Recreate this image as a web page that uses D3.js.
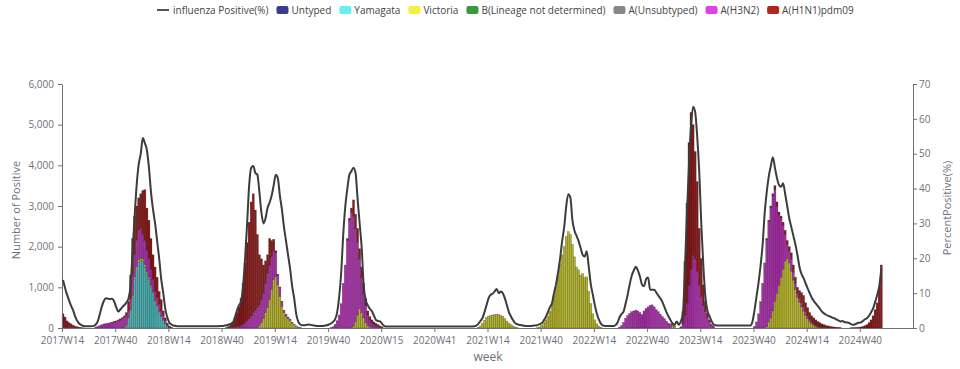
<!DOCTYPE html>
<html lang="en">
<head>
<meta charset="UTF-8">
<title>Influenza positive by week</title>
<script src="https://d3js.org/d3.v7.min.js"></script>
<style>
    body { margin: 0; background: #fff; font-family: "Open Sans", "Noto Sans", sans-serif; }
    .axis text { fill: #6e7079; font-size: 10px; font-family: "Open Sans", sans-serif; }
    .axis path, .axis line { stroke: #6e7079; }
    .axis-title { fill: #6e7079; font-size: 11px; }
    .legend text { fill: #444; font-size: 10px; }
</style>
</head>
<body>
<div id="chart"></div>
<script>
// ---- data ----
const seriesNames = ["Untyped", "Yamagata", "Victoria", "B(Lineage not determined)", "A(Unsubtyped)", "A(H3N2)", "A(H1N1)pdm09"];
const seriesColors = ["#3b3b8f", "#66eef0", "#f2f23c", "#3a9a3a", "#888888", "#e43fe4", "#b52222"];
const lineName = "influenza Positive(%)";

const xTickLabels = ["2017W14", "2017W40", "2018W14", "2018W40", "2019W14", "2019W40", "2020W15", "2020W41",
    "2021W14", "2021W40", "2022W14", "2022W40", "2023W14", "2023W40", "2024W14", "2024W40"];
const leftTicks = [0, 1000, 2000, 3000, 4000, 5000, 6000];
const rightTicks = [0, 10, 20, 30, 40, 50, 60, 70];

// weekly counts, given as [first week, values...] runs; weeks not listed are 0
const untyped = [];
const bUndetermined = [];
const aUnsubtyped = [];
const yamagata = [
    ["2017W43", [5, 20, 65, 230, 420, 760, 1200, 1440, 1620, 1660, 1640, 1500, 1330, 1200, 1010, 845, 650, 525, 380, 285, 190, 115, 48, 19, 5]]
];
const victoria = [
    ["2017W43", [5, 10, 15, 20, 30, 40, 50, 60, 60, 60, 60, 60, 50, 50, 40, 35, 30, 25, 20, 15, 10, 5, 2, 1]],
    ["2019W06", [60, 130, 240, 380, 500, 700, 950, 1200, 1260, 1060, 780, 530, 380, 290, 230, 190, 120, 80, 45, 20, 8]],
    ["2019W50", [10, 20, 50, 150, 320, 480, 380, 250, 130, 60, 30, 15, 10, 5]],
    ["2021W09", [20, 50, 120, 190, 260, 290, 310, 320, 330, 340, 330, 310, 290, 230, 170, 120, 80, 50, 25, 10]],
    ["2021W38", [10, 30, 70, 130, 200, 280, 400, 580, 800, 1000, 1300, 1580, 1800, 2000, 2250, 2370, 2300, 2050, 1750, 1500,
        1430, 1300, 1340, 1240, 1260, 900, 600, 350, 200, 100, 40, 15]],
    ["2022W51", [20, 70, 30]],
    ["2023W45", [10, 40, 150, 250, 420, 650, 850, 1050, 1250, 1450, 1650, 1710, 1600, 1400, 1180, 950, 760, 640, 520, 420,
        320, 230, 160, 110, 70, 40, 20, 10]]
];
const h3n2 = [
    ["2017W14", [30, 20, 15, 10, 10, 5, 5]],
    ["2017W30", [20, 40, 60, 80, 100, 110, 120, 130, 140, 150, 160, 180, 200, 220, 230, 220, 170, 250, 500, 550,
        650, 720, 730, 600, 590, 520, 450, 400, 320, 220, 200, 180, 120, 100, 60, 30, 10, 5]],
    ["2018W43", [5, 10, 15, 20, 30, 40, 60, 90, 130, 180, 240, 300, 380, 440, 500, 510, 570, 610, 720, 850,
        850, 800, 700, 590, 240, 220, 120, 50, 40, 40, 30, 20, 10, 5, 5, 2]],
    ["2019W41", [10, 30, 90, 180, 320, 600, 1100, 1550, 2150, 2640, 2830, 2700, 2300, 1780, 1220, 870, 600, 420, 260, 170,
        115, 80, 55, 40, 20, 10]],
    ["2022W26", [20, 60, 140, 240, 310, 360, 400, 420, 440, 420, 380, 330, 420, 480, 520, 560, 570, 520, 450, 400,
        340, 280, 230, 170, 120, 80, 40, 20]],
    ["2023W04", [20, 100, 320, 600, 1050, 1450, 1780, 1700, 1400, 1050, 780, 560, 400, 250, 150, 70, 30]],
    ["2023W40", [40, 150, 350, 650, 1100, 1590, 2140, 2470, 2710, 2830, 2750, 2150, 1730, 1450, 1070, 650, 340, 280, 300, 200,
        150, 90, 90, 100, 100, 80, 70, 60, 40, 30, 30, 20, 15, 15, 10, 5]]
];
const h1n1 = [
    ["2017W14", [320, 250, 160, 120, 90, 60, 40, 30, 20, 10, 5]],
    ["2017W38", [5, 10, 15, 20, 25, 25, 40, 80, 230, 600, 900, 950, 850, 800, 850, 1080, 1250, 1050, 950, 750,
        600, 600, 500, 320, 280, 120, 70, 40, 20, 10]],
    ["2018W42", [10, 35, 90, 135, 230, 350, 480, 670, 1010, 1470, 1920, 2360, 2800, 2920, 2460, 1800, 1230, 1000, 700, 550,
        450, 650, 400, 280, 50, 20, 10, 10, 5, 5]],
    ["2019W49", [50, 50, 100, 400, 350, 350, 250, 250, 250, 170, 100, 80, 70, 60, 50, 40, 30, 20]],
    ["2023W04", [10, 300, 1310, 2470, 3510, 3850, 3220, 2640, 2200, 1400, 930, 500, 250, 110, 50, 20, 10]],
    ["2023W46", [20, 30, 40, 50, 100, 100, 70, 50, 80, 100, 100, 120, 150, 170, 150, 150, 190, 250, 280, 220,
        200, 160, 150, 150, 130, 120, 105, 85, 70, 55, 50, 40, 30, 25, 20, 15, 10]],
    ["2024W35", [5, 10, 10, 15, 20, 25, 40, 55, 80, 130, 200, 300, 450, 620, 1000, 1550]]
];

// percent positive, one value per week from 2017W14 to 2024W50
const percentPositive = [
    13.8, 11.5, 9.5, 7.8, 6.3, 5.0, 3.2, 2.0, 1.2, 0.8, 0.6, 0.5, 0.5, 0.5, 0.5, 0.6, 1.0, 2.0, 4.0, 6.2, 7.8, 8.5, 8.4, 8.3, 8.4, 7.6,
    6.0, 4.7, 5.3, 6.0, 6.6, 7.3, 8.5, 12, 22, 32, 41, 47, 50, 54.5, 53, 51, 46, 39, 34, 30, 25, 20, 14, 10, 5.5, 3,
    1.5, 1.0, 0.7, 0.6, 0.5, 0.5, 0.5, 0.5, 0.5, 0.5, 0.5, 0.5, 0.5, 0.5, 0.5, 0.5, 0.5, 0.5, 0.5, 0.5, 0.5, 0.5, 0.5, 0.5, 0.5, 0.6,
    0.6, 0.7, 0.8, 1.0, 1.2, 1.5, 3.0, 5.0, 6.5, 7.5, 12, 20, 30, 41, 46, 46.5, 44.5, 44, 39, 33, 30, 31.5, 34.5, 36, 38, 41,
    44, 43, 38, 34, 29, 25, 21, 17, 12, 8.5, 4, 1.8, 1.0, 0.8, 0.8, 0.9, 1.0, 0.9, 0.8, 0.7, 0.6, 0.6, 0.6, 0.6, 0.7, 0.8,
    1.0, 1.3, 1.8, 2.5, 4.5, 9, 16, 27, 35, 40, 44, 45, 46, 44.5, 37, 30, 23, 12, 8, 6.5, 5.5, 4.8, 3.5, 2.3, 2.0, 1.9,
    1.2, 0.6, 0.4, 0.4, 0.4, 0.4, 0.4, 0.4, 0.4, 0.4, 0.4, 0.4, 0.4, 0.4, 0.4, 0.4, 0.4, 0.4, 0.4, 0.4, 0.4, 0.4, 0.4, 0.4, 0.4, 0.4,
    0.4, 0.4, 0.4, 0.4, 0.4, 0.4, 0.4, 0.4, 0.4, 0.4, 0.4, 0.4, 0.4, 0.4, 0.4, 0.4, 0.4, 0.4, 0.4, 0.5, 0.7, 1.2, 2.0, 2.8, 4.5, 6.5,
    8.5, 9.5, 9.8, 10.5, 11.2, 10, 10.5, 10, 8.5, 6.5, 4.5, 3.3, 2.2, 1.4, 1.1, 0.9, 0.8, 0.7, 0.6, 0.6, 0.6, 0.6, 0.7, 0.7, 0.9, 1.1,
    1.4, 2.2, 3.2, 4.5, 6.0, 7, 10, 12.5, 16, 20, 25, 29, 35, 38.4, 37.5, 31, 28, 26.5, 25, 23, 21, 20.5, 22, 17.5, 12.5, 9.5,
    6.5, 4.0, 2.3, 1.2, 0.7, 0.6, 0.6, 0.6, 0.6, 0.6, 0.8, 1.5, 3.0, 4.0, 4.7, 7, 9.5, 12.5, 15, 16.5, 17.6, 16.5, 14.8, 12.5, 12, 14,
    14.5, 11, 11, 11, 10.2, 9.3, 8.5, 7.5, 6, 4.5, 3.3, 2.2, 1.3, 0.9, 1.9, 0.9, 1.9, 4, 17, 33, 47, 58, 63.5, 62, 55, 45,
    30, 18, 9, 5, 3.5, 2, 1.0, 0.8, 0.7, 0.7, 0.7, 0.7, 0.7, 0.7, 0.7, 0.7, 0.7, 0.7, 0.7, 0.7, 0.7, 0.7, 0.7, 0.7, 0.7, 1.8,
    5, 9, 13, 18, 24, 33, 39, 43.5, 46.5, 49, 46, 43, 41, 40.5, 41.5, 38.5, 35, 31.5, 29, 26.5, 24, 21, 17.5, 15.5, 14.3, 12.8,
    11.4, 10, 8.7, 7.8, 7, 6.3, 5.5, 4.7, 4.2, 3.8, 3.5, 3.3, 3.0, 2.8, 2.5, 2.2, 1.9, 2.0, 1.7, 1.6, 1.5, 1.2, 0.9, 1.0, 1.3, 1.5,
    1.6, 2.0, 2.5, 2.8, 3.5, 4.5, 5.6, 7.5, 9.5, 12, 17
];

// ---- week categories: 2017W14 .. 2025W13 (2020 has 53 weeks, 2020W01 is not in the data) ----
const weeks = [];
for (let yr = 2017; yr <= 2025; yr++) {
    const nWeeks = yr === 2020 ? 53 : 52;
    for (let w = 1; w <= nWeeks; w++) {
        if (yr === 2017 && w < 14) continue;
        if (yr === 2025 && w > 13) break;
        const label = yr + "W" + String(w).padStart(2, "0");
        if (label === "2020W01") continue;
        weeks.push(label);
    }
}

const seriesRuns = [untyped, yamagata, victoria, bUndetermined, aUnsubtyped, h3n2, h1n1];
const nData = percentPositive.length;
const rows = weeks.slice(0, nData).map(w => ({ week: w }));
seriesNames.forEach((name, si) => {
    rows.forEach(r => r[name] = 0);
    seriesRuns[si].forEach(([start, vals]) => {
        const i0 = weeks.indexOf(start);
        vals.forEach((v, k) => { rows[i0 + k][name] = v; });
    });
});
rows.forEach((r, i) => r.pct = percentPositive[i]);

// ---- layout ----
const W = 960, H = 369;
const plot = { left: 62, right: 913, top: 84, bottom: 328 };

const svg = d3.select("#chart").append("svg")
    .attr("width", W).attr("height", H);

const x = d3.scaleBand().domain(weeks).range([plot.left, plot.right]).padding(0);
const xTick = d3.scalePoint().domain(weeks).range([plot.left, plot.right - x.bandwidth()]);
const y = d3.scaleLinear().domain([0, 6000]).range([plot.bottom, plot.top]);
const y2 = d3.scaleLinear().domain([0, 70]).range([plot.bottom, plot.top]);

const color = d3.scaleOrdinal().domain(seriesNames).range(seriesColors);

// stacked bars
const stacked = d3.stack().keys(seriesNames)(rows);
svg.append("g").selectAll("g")
    .data(stacked)
    .join("g")
    .attr("fill", d => d3.color(color(d.key)).darker(0.85))
    .selectAll("rect")
    .data(d => d.filter(p => p[1] > p[0]))
    .join("rect")
    .attr("x", p => x(p.data.week))
    .attr("width", x.bandwidth())
    .attr("y", p => y(p[1]))
    .attr("height", p => y(p[0]) - y(p[1]))
    .attr("stroke", "rgba(0,0,0,0.4)")
    .attr("stroke-width", 0.5);

// axes
svg.append("g")
    .attr("class", "axis")
    .attr("transform", `translate(0,${plot.bottom})`)
    .call(d3.axisBottom(xTick).tickValues(xTickLabels).tickSize(4).tickPadding(5).tickSizeOuter(0))
    .call(g => g.select(".domain").attr("d", `M${plot.left},0.5H${plot.right}`));

svg.append("g")
    .attr("class", "axis")
    .attr("transform", `translate(${plot.left},0)`)
    .call(d3.axisLeft(y).tickValues(leftTicks).tickFormat(d3.format(",")).tickSize(4).tickPadding(4).tickSizeOuter(0));

svg.append("g")
    .attr("class", "axis")
    .attr("transform", `translate(${plot.right},0)`)
    .call(d3.axisRight(y2).tickValues(rightTicks).tickSize(4).tickPadding(2).tickSizeOuter(0));

// percent positive line
svg.append("path")
    .datum(rows)
    .attr("fill", "none")
    .attr("stroke", "#3c3c3c")
    .attr("stroke-width", 2)
    .attr("stroke-linejoin", "round")
    .attr("d", d3.line()
        .x(d => x(d.week) + x.bandwidth() / 2)
        .y(d => y2(d.pct))
        .curve(d3.curveMonotoneX));

// axis titles
svg.append("text")
    .attr("class", "axis-title")
    .attr("transform", `translate(20,${(plot.top + plot.bottom) / 2 + 4}) rotate(-90)`)
    .attr("text-anchor", "middle")
    .text("Number of Positive");

svg.append("text")
    .attr("class", "axis-title")
    .attr("transform", `translate(951,${(plot.top + plot.bottom) / 2 + 2}) rotate(-90)`)
    .attr("text-anchor", "middle")
    .text("PercentPositive(%)");

svg.append("text")
    .attr("class", "axis-title")
    .attr("x", 488)
    .attr("y", 361)
    .attr("text-anchor", "middle")
    .style("font-size", "12px")
    .text("week");

// legend
const legend = svg.append("g").attr("class", "legend").attr("transform", "translate(157,10)");
let lx = 0;
legend.append("line")
    .attr("x1", lx).attr("x2", lx + 12).attr("y1", 0).attr("y2", 0)
    .attr("stroke", "#555").attr("stroke-width", 2);
let t = legend.append("text").attr("x", lx + 16).attr("y", 3.5).text(lineName);
lx += 16 + t.node().getComputedTextLength() + 8;
seriesNames.forEach(name => {
    legend.append("rect")
        .attr("x", lx).attr("y", -4).attr("width", 12).attr("height", 8)
        .attr("rx", 2).attr("fill", color(name));
    const tt = legend.append("text").attr("x", lx + 15).attr("y", 3.5).text(name);
    lx += 15 + tt.node().getComputedTextLength() + 8;
});
</script>
</body>
</html>
